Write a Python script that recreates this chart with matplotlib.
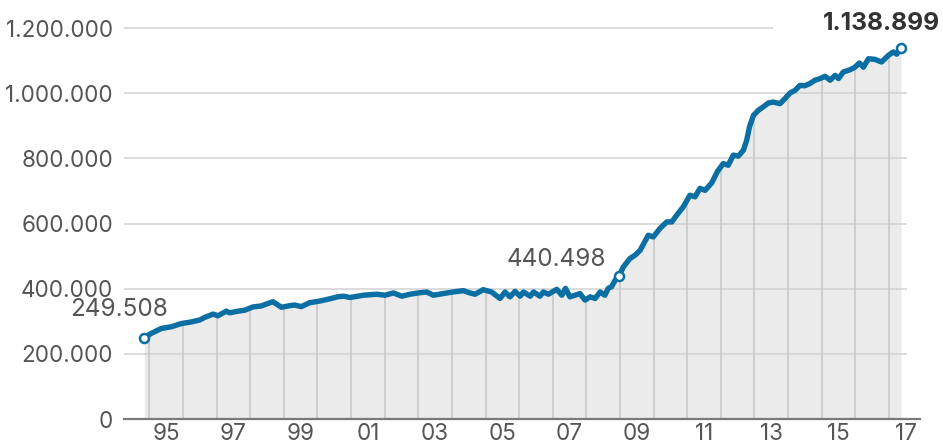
import matplotlib
matplotlib.use("Agg")
import matplotlib.pyplot as plt

plt.rcParams['font.family'] = ['Inter', 'DejaVu Sans']

# Data (decimal year, value)
years = [
    1994.85, 1995.06, 1995.36, 1995.65, 1995.95, 1996.25, 1996.50, 1996.65, 1996.90,
    1997.04, 1997.29, 1997.39, 1997.64, 1997.84, 1998.08, 1998.33, 1998.48, 1998.68,
    1998.93, 1999.13, 1999.32, 1999.52, 1999.77, 2000.07, 2000.37, 2000.60, 2000.77,
    2000.97, 2001.37, 2001.76, 2002.01, 2002.26, 2002.51, 2002.75, 2003.00, 2003.25,
    2003.45, 2003.74, 2004.04, 2004.34, 2004.54, 2004.69, 2004.93, 2005.18, 2005.43,
    2005.58, 2005.73, 2005.88, 2006.03, 2006.13, 2006.33, 2006.43, 2006.62, 2006.72,
    2006.87, 2007.12, 2007.27, 2007.38, 2007.51, 2007.66, 2007.81, 2007.96, 2008.11,
    2008.26, 2008.41, 2008.55, 2008.65, 2008.75, 2008.85, 2008.98, 2009.10, 2009.30,
    2009.45, 2009.60, 2009.84, 2009.99, 2010.19, 2010.39, 2010.54, 2010.69, 2010.88,
    2011.08, 2011.23, 2011.38, 2011.53, 2011.73, 2011.90, 2012.07, 2012.22, 2012.37,
    2012.52, 2012.67, 2012.77, 2012.85, 2012.97, 2013.12, 2013.26, 2013.41, 2013.56,
    2013.76, 2013.91, 2014.06, 2014.21, 2014.35, 2014.50, 2014.65, 2014.80, 2014.95,
    2015.10, 2015.25, 2015.40, 2015.50, 2015.64, 2015.84, 2015.99, 2016.12, 2016.24,
    2016.39, 2016.58, 2016.78, 2016.98, 2017.13, 2017.23, 2017.36,
]
values = [
    249508, 263000, 278000, 283000, 293000, 298000, 304000, 312000, 322000,
    317000, 331000, 326000, 331000, 334000, 344000, 347000, 353000, 360000,
    343000, 347000, 350000, 345000, 357000, 362000, 369000, 375000, 377000,
    373000, 380000, 383000, 380000, 387000, 377000, 383000, 387000, 390000,
    380000, 385000, 390000, 394000, 387000, 383000, 397000, 390000, 370000,
    390000, 375000, 392000, 377000, 390000, 377000, 390000, 377000, 390000,
    383000, 398000, 380000, 401000, 375000, 380000, 385000, 365000, 375000,
    370000, 390000, 380000, 401000, 406000, 425000, 440498, 467000, 493000,
    503000, 518000, 564000, 559000, 585000, 605000, 605000, 626000, 651000,
    687000, 682000, 708000, 702000, 725000, 760000, 784000, 779000, 810000,
    807000, 825000, 856000, 896000, 932000, 948000, 958000, 970000, 973000,
    968000, 984000, 1001000, 1009000, 1024000, 1023000, 1030000, 1040000, 1045000,
    1052000, 1040000, 1055000, 1045000, 1065000, 1072000, 1080000, 1093000, 1080000,
    1106000, 1104000, 1096000, 1116000, 1127000, 1120000, 1138899,
]

y_ticks = [0, 200000, 400000, 600000, 800000, 1000000, 1200000]
x_tick_years = [1995, 1997, 1999, 2001, 2003, 2005, 2007, 2009, 2011, 2013, 2015, 2017]
x_tick_labels = ['95', '97', '99', '01', '03', '05', '07', '09', '11', '13', '15', '17']
grid_years = list(range(1995, 2018))
highlight_idx = [0, values.index(440498), len(values) - 1]

LINE = '#0b6fa3'
TXT = '#555555'
FS = 16.2
FS_ANN = 17.5
FS_BOLD = 17.7

fig = plt.figure(figsize=(9.43, 4.45), dpi=100)
W, H = 943, 445
ax = fig.add_axes([124 / W, 26 / H, (920 - 124) / W, 419 / H])

def px2yr(px):
    return 1995 + (px - 149.3) / 33.62

xmin, xmax = px2yr(124), px2yr(920)
ymax = 419 * 200000 / 65.15
ax.set_xlim(xmin, xmax)
ax.set_ylim(0, ymax)

# area
poly = ax.fill_between(years, values, 0, color='#ebebeb', lw=0, zorder=1)
clip_path = poly.get_paths()[0]

# horizontal gridlines
for yv in y_ticks[1:]:
    xe = px2yr(773) if yv == y_ticks[-1] else px2yr(907)
    ax.plot([xmin, xe], [yv, yv], color='#d2d2d2', lw=1.1, zorder=2,
            solid_capstyle='butt')

# vertical gridlines clipped to area
for yr in grid_years:
    ln, = ax.plot([yr, yr], [0, ymax], color='#c6c6c6', lw=1.1, zorder=2)
    ln.set_clip_path(clip_path, ax.transData)

# baseline
ax.plot([xmin, xmax], [0, 0], color='#7a7a7a', lw=1.6, zorder=3, clip_on=False)

# main line
ax.plot(years, values, color=LINE, lw=3.9, zorder=4, solid_joinstyle='round',
        solid_capstyle='round')
ax.plot([years[i] for i in highlight_idx], [values[i] for i in highlight_idx],
        'o', ms=6.5, mfc='white', mec=LINE, mew=1.8, zorder=5)

def fmt(v):
    return f'{v:,}'.replace(',', '.')

# annotations
i0, i1, i2 = highlight_idx
ax.annotate(fmt(values[i0]), (years[i0], values[i0]), xytext=(24, 28),
            textcoords='offset pixels', ha='right', va='center',
            fontsize=FS_ANN, color=TXT, zorder=6)
ax.annotate(fmt(values[i1]), (years[i1], values[i1]), xytext=(-13, 16),
            textcoords='offset pixels', ha='right', va='center',
            fontsize=FS_ANN, color=TXT, zorder=6)
ax.annotate(fmt(values[i2]), (years[i2], values[i2]), xytext=(39, 25),
            textcoords='offset pixels', ha='right', va='center',
            fontsize=FS_BOLD, color='#333333', fontweight='bold', zorder=6)

ax.set_yticks(y_ticks)
ax.set_yticklabels([fmt(v) for v in y_ticks])
ax.set_xticks([y + 0.5 for y in x_tick_years])
ax.set_xticklabels(x_tick_labels)
ax.tick_params(axis='both', length=0, labelsize=FS, labelcolor=TXT)
ax.tick_params(axis='y', pad=8)
ax.tick_params(axis='x', pad=3)
for s in ax.spines.values():
    s.set_visible(False)

fig.savefig('out.png', dpi=100)
